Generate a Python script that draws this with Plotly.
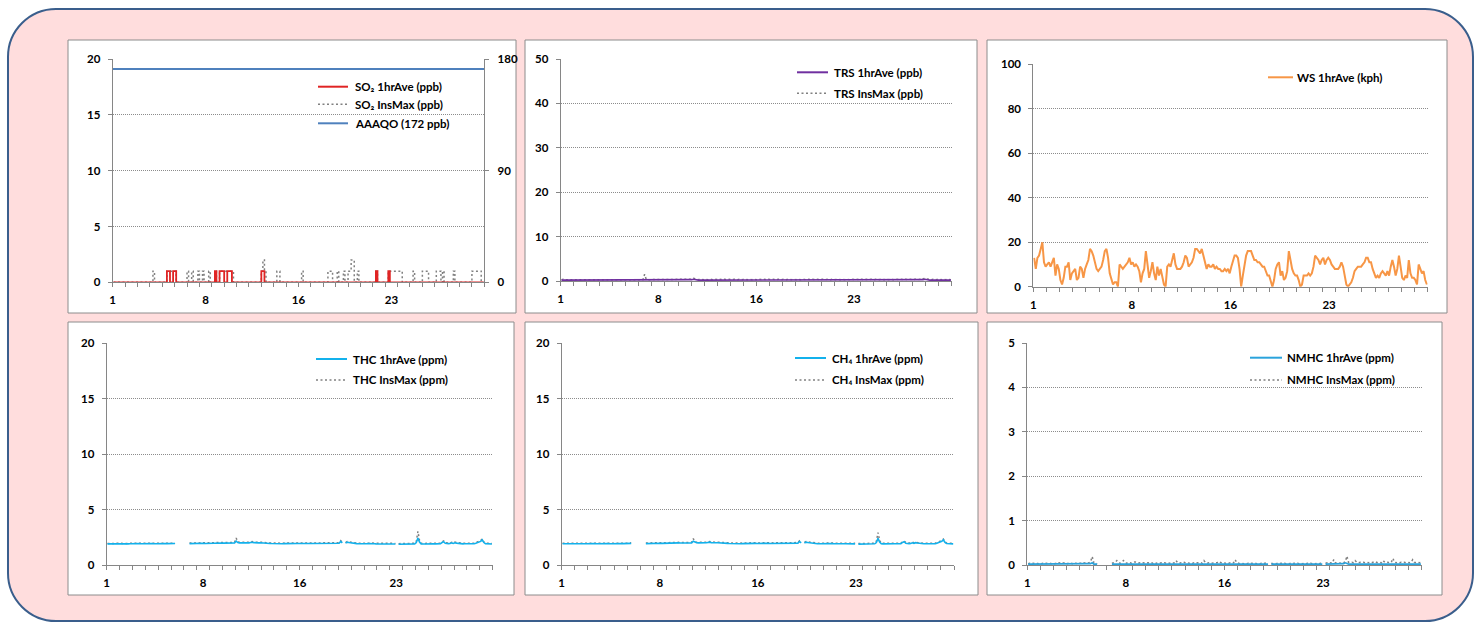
import plotly.graph_objects as go

# ---------------------------------------------------------------------------
# Monthly air-quality summary: six hourly panels, 30 days, values stored as
# 3-hourly samples (8 per day, one day per line).
# ---------------------------------------------------------------------------
W, H = 1476, 624
N_DAYS = 30
STEPS_PER_DAY = 8

X_TICK_POS = [0, 7.5, 15, 22.5]
X_TICK_TEXT = ["1", "8", "16", "23"]

AAAQO_SO2 = 172  # ppb, Alberta ambient air quality objective (1-hour)

SO2_AVE = [
    0, 0, 0, 0, 0, 0, 0, 0,
    0, 0, 0, 0, 0, 0, 0, 0,
    0, 0, 0, 0, 0, 0, 0, 0,
    0, 0, 0, 0, 0, 0, 0, 0,
    0, 0, 0, 1, 1, 0, 0, 1,
    1, 0, 0, 0, 0, 0, 0, 0,
    0, 0, 0, 0, 0, 0, 0, 0,
    0, 0, 0, 0, 0, 0, 0, 0,
    0, 0, 1, 0, 0, 1, 1, 1,
    0, 0, 1, 1, 1, 0, 0, 0,
    0, 0, 0, 0, 0, 0, 0, 0,
    0, 0, 0, 0, 0, 0, 0, 0,
    1, 1, 0, 0, 0, 0, 0, 0,
    0, 0, 0, 0, 0, 0, 0, 0,
    0, 0, 0, 0, 0, 0, 0, 0,
    0, 0, 0, 0, 0, 0, 0, 0,
    0, 0, 0, 0, 0, 0, 0, 0,
    0, 0, 0, 0, 0, 0, 0, 0,
    0, 0, 0, 0, 0, 0, 0, 0,
    0, 0, 0, 0, 0, 0, 0, 0,
    0, 0, 0, 0, 0, 0, 0, 0,
    0, 0, 1, 0, 0, 0, 0, 0,
    0, 0, 1, 0, 0, 0, 0, 0,
    0, 0, 0, 0, 0, 0, 0, 0,
    0, 0, 0, 0, 0, 0, 0, 0,
    0, 0, 0, 0, 0, 0, 0, 0,
    0, 0, 0, 0, 0, 0, 0, 0,
    0, 0, 0, 0, 0, 0, 0, 0,
    0, 0, 0, 0, 0, 0, 0, 0,
    0, 0, 0, 0, 0, 0, 0, 0,
]

SO2_MAX = [
    0, 0, 0, 0, 0, 0, 0, 0,
    0, 0, 0, 0, 0, 0, 0, 0,
    0, 0, 0, 0, 0, 0, 0, 0,
    0, 0, 1, 0, 0, 0, 0, 0,
    0, 0, 0, 1, 1, 1, 1, 1,
    1, 0, 0, 0, 0, 0, 0, 0,
    1, 0, 0, 1, 0, 0, 0, 1,
    0, 0, 1, 0, 0, 0, 1, 0,
    0, 0, 1, 0, 0, 1, 1, 1,
    1, 1, 1, 1, 1, 1, 0, 0,
    0, 0, 0, 0, 0, 0, 0, 0,
    0, 0, 0, 0, 0, 0, 0, 0,
    1, 2, 1, 0, 0, 0, 0, 0,
    0, 0, 1, 1, 0, 0, 0, 0,
    0, 0, 0, 0, 0, 0, 0, 0,
    0, 0, 1, 0, 0, 0, 0, 0,
    0, 0, 0, 0, 0, 0, 0, 0,
    0, 0, 0, 1, 1, 1, 0, 0,
    0, 1, 0, 0, 0, 1, 0, 0,
    1, 1, 2, 2, 0, 0, 1, 0,
    0, 0, 0, 0, 0, 0, 0, 0,
    0, 0, 1, 0, 0, 0, 0, 0,
    0, 0, 1, 1, 1, 1, 1, 1,
    1, 1, 1, 0, 0, 0, 0, 0,
    0, 0, 1, 0, 0, 0, 0, 0,
    1, 1, 1, 1, 0, 0, 0, 0,
    0, 1, 1, 1, 0, 1, 0, 0,
    0, 0, 0, 0, 1, 0, 0, 0,
    0, 0, 0, 0, 0, 0, 0, 0,
    1, 1, 1, 1, 1, 1, 0, 0,
]

TRS_AVE = [
    0.2, 0.2, 0.2, 0.2, 0.2, 0.2, 0.2, 0.2,
    0.2, 0.2, 0.2, 0.2, 0.2, 0.2, 0.2, 0.2,
    0.2, 0.2, 0.2, 0.2, 0.2, 0.2, 0.2, 0.2,
    0.2, 0.2, 0.2, 0.2, 0.2, 0.2, 0.2, 0.2,
    0.2, 0.2, 0.2, 0.2, 0.2, 0.2, 0.2, 0.2,
    0.2, 0.2, 0.2, 0.2, 0.2, 0.2, 0.2, 0.2,
    0.2, 0.2, 0.2, 0.3, 0.2, 0.2, 0.2, 0.2,
    0.2, 0.2, 0.2, 0.2, 0.2, 0.2, 0.2, 0.2,
    0.2, 0.2, 0.2, 0.2, 0.2, 0.2, 0.2, 0.2,
    0.2, 0.2, 0.2, 0.2, 0.2, 0.2, 0.2, 0.2,
    0.3, 0.4, 0.3, 0.3, 0.2, 0.2, 0.2, 0.2,
    0.2, 0.2, 0.2, 0.2, 0.2, 0.2, 0.2, 0.2,
    0.2, 0.2, 0.2, 0.2, 0.2, 0.2, 0.2, 0.2,
    0.2, 0.2, 0.2, 0.2, 0.2, 0.2, 0.2, 0.2,
    0.2, 0.2, 0.2, 0.2, 0.2, 0.2, 0.2, 0.2,
    0.2, 0.2, 0.2, 0.2, 0.2, 0.2, 0.2, 0.2,
    0.2, 0.2, 0.2, 0.2, 0.2, 0.2, 0.2, 0.2,
    0.2, 0.2, 0.2, 0.2, 0.2, 0.2, 0.2, 0.2,
    0.2, 0.2, 0.2, 0.2, 0.2, 0.2, 0.2, 0.2,
    0.2, 0.2, 0.2, 0.2, 0.2, 0.2, 0.2, 0.2,
    0.2, 0.2, 0.2, 0.2, 0.2, 0.2, 0.2, 0.2,
    0.2, 0.2, 0.2, 0.2, 0.2, 0.2, 0.2, 0.2,
    0.2, 0.2, 0.2, 0.2, 0.2, 0.2, 0.2, 0.2,
    0.2, 0.2, 0.2, 0.2, 0.2, 0.2, 0.2, 0.2,
    0.2, 0.2, 0.2, 0.2, 0.2, 0.2, 0.2, 0.2,
    0.2, 0.2, 0.2, 0.2, 0.2, 0.2, 0.2, 0.2,
    0.2, 0.2, 0.2, 0.2, 0.2, 0.2, 0.2, 0.2,
    0.2, 0.2, 0.2, 0.2, 0.2, 0.2, 0.3, 0.4,
    0.3, 0.3, 0.2, 0.2, 0.2, 0.2, 0.2, 0.2,
    0.2, 0.2, 0.2, 0.2, 0.2, 0.2, 0.2, 0.2,
]

TRS_MAX = [
    0.3, 0.4, 0.3, 0.3, 0.4, 0.3, 0.3, 0.4,
    0.3, 0.3, 0.4, 0.3, 0.3, 0.4, 0.3, 0.3,
    0.4, 0.3, 0.3, 0.4, 0.3, 0.3, 0.4, 0.3,
    0.3, 0.4, 0.3, 0.3, 0.4, 0.3, 0.3, 0.4,
    0.3, 0.3, 0.4, 0.3, 0.3, 0.4, 0.3, 0.3,
    0.4, 0.3, 0.3, 0.4, 0.3, 0.3, 0.4, 0.3,
    0.3, 0.4, 0.3, 1.5, 0.4, 0.3, 0.3, 0.4,
    0.3, 0.3, 0.4, 0.3, 0.3, 0.4, 0.3, 0.3,
    0.4, 0.3, 0.3, 0.4, 0.3, 0.3, 0.4, 0.3,
    0.3, 0.4, 0.3, 0.3, 0.4, 0.3, 0.3, 0.4,
    0.5, 0.6, 0.5, 0.4, 0.3, 0.4, 0.3, 0.3,
    0.4, 0.3, 0.3, 0.4, 0.3, 0.3, 0.4, 0.3,
    0.3, 0.4, 0.3, 0.3, 0.4, 0.3, 0.3, 0.4,
    0.3, 0.3, 0.4, 0.3, 0.3, 0.4, 0.3, 0.3,
    0.4, 0.3, 0.3, 0.4, 0.3, 0.3, 0.4, 0.3,
    0.3, 0.4, 0.3, 0.3, 0.4, 0.3, 0.3, 0.4,
    0.3, 0.3, 0.4, 0.3, 0.3, 0.4, 0.3, 0.3,
    0.4, 0.3, 0.3, 0.4, 0.3, 0.3, 0.4, 0.3,
    0.3, 0.4, 0.3, 0.3, 0.4, 0.3, 0.3, 0.4,
    0.3, 0.3, 0.4, 0.3, 0.3, 0.4, 0.3, 0.3,
    0.4, 0.3, 0.3, 0.4, 0.3, 0.3, 0.4, 0.3,
    0.3, 0.4, 0.3, 0.3, 0.4, 0.3, 0.3, 0.4,
    0.3, 0.3, 0.4, 0.3, 0.3, 0.4, 0.3, 0.3,
    0.4, 0.3, 0.3, 0.4, 0.3, 0.3, 0.4, 0.3,
    0.3, 0.4, 0.3, 0.3, 0.4, 0.3, 0.3, 0.4,
    0.3, 0.3, 0.4, 0.3, 0.3, 0.4, 0.3, 0.3,
    0.4, 0.3, 0.3, 0.4, 0.3, 0.3, 0.4, 0.3,
    0.3, 0.4, 0.3, 0.3, 0.4, 0.3, 0.5, 0.6,
    0.5, 0.4, 0.3, 0.3, 0.4, 0.3, 0.3, 0.4,
    0.3, 0.3, 0.4, 0.3, 0.3, 0.4, 0.3, 0.3,
]

WS_AVE = [
    13, 8, 13, 14, 17, 20, 11, 9,
    10, 11, 9, 11, 13, 5, 10, 8,
    3, 1, 4, 9, 9, 11, 3, 6,
    7, 8, 3, 4, 9, 8, 4, 8,
    10, 12, 17, 16, 14, 11, 8, 7,
    8, 9, 12, 16, 17, 13, 6, 3,
    1, 2, 2, 0, 10, 9, 8, 9,
    10, 11, 13, 10, 11, 9, 10, 9,
    7, 2, 6, 8, 16, 9, 4, 7,
    11, 6, 3, 9, 5, 8, 4, 1,
    0, 9, 10, 9, 12, 15, 10, 8,
    8, 8, 9, 11, 14, 13, 9, 10,
    11, 13, 17, 17, 16, 15, 17, 14,
    12, 8, 10, 9, 9, 10, 8, 9,
    8, 8, 7, 7, 8, 7, 8, 6,
    9, 12, 14, 14, 13, 8, 0, 5,
    9, 14, 16, 16, 16, 14, 12, 12,
    11, 11, 10, 9, 9, 7, 5, 5,
    2, 0, 3, 8, 10, 11, 5, 7,
    3, 4, 7, 16, 12, 8, 6, 5,
    5, 3, 0, 1, 5, 5, 5, 6,
    5, 6, 9, 14, 13, 12, 10, 12,
    13, 10, 12, 13, 12, 10, 9, 8,
    8, 8, 9, 11, 9, 5, 1, 0,
    1, 2, 4, 7, 8, 9, 9, 9,
    10, 11, 13, 13, 11, 11, 8, 6,
    4, 5, 4, 6, 7, 6, 5, 7,
    5, 9, 12, 9, 5, 8, 14, 9,
    4, 3, 5, 4, 12, 6, 4, 4,
    3, 1, 10, 8, 6, 7, 3, 1,
]

THC_AVE = [
    1.93, 1.92, 1.93, 1.94, 1.93, 1.93, 1.94, 1.93,
    1.93, 1.93, 1.94, 1.95, 1.94, 1.93, 1.94, 1.95,
    1.94, 1.94, 1.95, 1.96, 1.95, 1.94, 1.95, 1.96,
    1.95, 1.94, 1.95, 1.96, 1.95, 1.94, 1.95, 1.95,
    1.94, 1.94, 1.95, 1.96, 1.95, 1.95, 1.96, 1.95,
    1.95, 1.96, 1.97, None, None, None, None, None,
    None, None, None, 1.95, 1.96, 1.97, 1.96, 1.97,
    1.96, 1.97, 1.98, 1.99, 1.98, 1.97, 1.98, 1.99,
    1.98, 1.99, 2.00, 2.01, 2.00, 1.99, 2.00, 2.01,
    2.00, 2.01, 2.02, 2.01, 2.00, 2.01, 2.02, 2.01,
    2.18, 2.05, 2.02, 2.01, 2.00, 2.01, 2.02, 2.01,
    2.02, 2.05, 2.08, 2.04, 2.02, 2.01, 2.02, 2.03,
    2.03, 2.02, 2.01, 2.00, 1.98, 1.97, 1.96, 1.95,
    1.95, 1.94, 1.95, 1.96, 1.95, 1.94, 1.95, 1.96,
    1.95, 1.96, 1.97, 1.96, 1.95, 1.96, 1.97, 1.96,
    1.97, 1.98, 1.97, 1.96, 1.95, 1.96, 1.97, 1.96,
    1.96, 1.95, 1.96, 1.97, 1.96, 1.95, 1.96, 1.95,
    1.95, 1.96, 1.97, 1.96, 1.97, 1.98, 1.97, 1.98,
    1.99, 2.15, 2.02, None, 2.00, 2.08, 2.05, 2.02,
    2.02, 2.00, 1.97, 1.95, 1.94, 1.93, 1.94, 1.93,
    1.93, 1.94, 1.95, 1.96, 1.97, 1.95, 1.94, 1.93,
    1.93, 1.94, 1.95, 1.94, 1.93, 1.94, 1.93, 1.92,
    1.93, 1.94, 1.93, 1.92, None, 1.90, 1.90, 1.89,
    1.89, 1.90, 1.89, 1.90, 1.89, 1.90, 1.91, 1.93,
    2.05, 2.45, 2.10, 1.93, 1.92, 1.93, 1.92, 1.93,
    1.93, 1.92, 1.93, 1.94, 1.93, 1.92, 1.93, 1.94,
    2.05, 2.12, 1.98, 1.94, 1.95, 1.96, 2.02, 1.97,
    2.03, 2.00, 1.97, 1.95, 1.94, 1.93, 1.94, 1.93,
    1.92, 1.93, 1.94, 1.95, 1.94, 1.98, 2.03, 2.08,
    2.15, 2.30, 2.05, 1.95, 1.93, 1.92, 1.93, 1.92,
]

THC_MAX = [
    1.97, 1.96, 1.97, 1.98, 1.97, 1.97, 1.98, 1.97,
    1.97, 1.97, 1.98, 1.99, 1.98, 1.97, 1.98, 1.99,
    1.98, 1.98, 1.99, 2.00, 1.99, 1.98, 1.99, 2.00,
    1.99, 1.98, 1.99, 2.01, 1.99, 1.98, 1.99, 1.99,
    1.98, 1.98, 1.99, 2.00, 1.99, 1.99, 2.02, 1.99,
    1.99, 2.00, 2.02, None, None, None, None, None,
    None, None, None, 2.00, 2.01, 2.02, 2.01, 2.02,
    2.01, 2.02, 2.03, 2.05, 2.03, 2.02, 2.03, 2.04,
    2.03, 2.04, 2.05, 2.07, 2.05, 2.04, 2.05, 2.06,
    2.05, 2.06, 2.07, 2.06, 2.05, 2.06, 2.08, 2.06,
    2.45, 2.10, 2.07, 2.06, 2.05, 2.06, 2.07, 2.06,
    2.07, 2.10, 2.14, 2.09, 2.07, 2.06, 2.07, 2.08,
    2.08, 2.07, 2.06, 2.05, 2.03, 2.02, 2.01, 2.00,
    2.00, 1.99, 2.00, 2.01, 2.00, 1.99, 2.00, 2.01,
    2.00, 2.01, 2.02, 2.01, 2.00, 2.01, 2.02, 2.01,
    2.02, 2.03, 2.02, 2.01, 2.00, 2.01, 2.02, 2.01,
    2.01, 2.00, 2.01, 2.02, 2.01, 2.00, 2.01, 2.00,
    2.00, 2.01, 2.02, 2.01, 2.02, 2.03, 2.02, 2.03,
    2.04, 2.22, 2.07, None, 2.05, 2.14, 2.10, 2.07,
    2.07, 2.05, 2.02, 2.00, 1.99, 1.98, 1.99, 1.98,
    1.98, 1.99, 2.00, 2.01, 2.02, 2.00, 1.99, 1.98,
    1.98, 1.99, 2.00, 1.99, 1.98, 1.99, 1.98, 1.97,
    1.98, 1.99, 1.98, 1.97, None, 1.95, 1.95, 1.94,
    1.94, 1.95, 1.94, 1.95, 1.94, 1.95, 1.96, 1.98,
    2.15, 3.05, 2.25, 1.98, 1.97, 1.98, 1.97, 1.98,
    1.98, 1.97, 1.98, 1.99, 1.98, 1.97, 1.98, 1.99,
    2.12, 2.20, 2.04, 1.99, 2.00, 2.01, 2.08, 2.02,
    2.09, 2.05, 2.02, 2.00, 1.99, 1.98, 1.99, 1.98,
    1.97, 1.98, 1.99, 2.00, 1.99, 2.05, 2.10, 2.15,
    2.22, 2.38, 2.10, 2.00, 1.98, 1.97, 1.98, 1.97,
]

CH4_AVE = [
    1.91, 1.90, 1.91, 1.92, 1.91, 1.91, 1.92, 1.91,
    1.91, 1.91, 1.92, 1.93, 1.92, 1.91, 1.92, 1.93,
    1.92, 1.92, 1.93, 1.94, 1.93, 1.92, 1.93, 1.94,
    1.93, 1.92, 1.93, 1.94, 1.93, 1.92, 1.93, 1.93,
    1.92, 1.92, 1.93, 1.94, 1.93, 1.93, 1.94, 1.93,
    1.93, 1.94, 1.95, None, None, None, None, None,
    None, None, None, 1.93, 1.94, 1.95, 1.94, 1.95,
    1.94, 1.95, 1.96, 1.97, 1.96, 1.95, 1.96, 1.97,
    1.96, 1.97, 1.98, 1.99, 1.98, 1.97, 1.98, 1.99,
    1.98, 1.99, 2.00, 1.99, 1.98, 1.99, 2.00, 1.99,
    2.14, 2.03, 2.00, 1.99, 1.98, 1.99, 2.00, 1.99,
    2.00, 2.03, 2.06, 2.02, 2.00, 1.99, 2.00, 2.01,
    2.01, 2.00, 1.99, 1.98, 1.96, 1.95, 1.94, 1.93,
    1.93, 1.92, 1.93, 1.94, 1.93, 1.92, 1.93, 1.94,
    1.93, 1.94, 1.95, 1.94, 1.93, 1.94, 1.95, 1.94,
    1.95, 1.96, 1.95, 1.94, 1.93, 1.94, 1.95, 1.94,
    1.94, 1.93, 1.94, 1.95, 1.94, 1.93, 1.94, 1.93,
    1.93, 1.94, 1.95, 1.94, 1.95, 1.96, 1.95, 1.96,
    1.97, 2.12, 2.00, None, 1.98, 2.06, 2.03, 2.00,
    2.00, 1.98, 1.95, 1.93, 1.92, 1.91, 1.92, 1.91,
    1.91, 1.92, 1.93, 1.94, 1.95, 1.93, 1.92, 1.91,
    1.91, 1.92, 1.93, 1.92, 1.91, 1.92, 1.91, 1.90,
    1.91, 1.92, 1.91, 1.90, None, 1.88, 1.88, 1.87,
    1.87, 1.88, 1.87, 1.88, 1.87, 1.88, 1.89, 1.91,
    2.02, 2.40, 2.07, 1.91, 1.90, 1.91, 1.90, 1.91,
    1.91, 1.90, 1.91, 1.92, 1.91, 1.90, 1.91, 1.92,
    2.03, 2.10, 1.96, 1.92, 1.93, 1.94, 2.00, 1.95,
    2.01, 1.98, 1.95, 1.93, 1.92, 1.91, 1.92, 1.91,
    1.90, 1.91, 1.92, 1.93, 1.92, 1.96, 2.01, 2.06,
    2.13, 2.27, 2.03, 1.93, 1.91, 1.90, 1.91, 1.90,
]

CH4_MAX = [
    1.95, 1.94, 1.95, 1.96, 1.95, 1.95, 1.96, 1.95,
    1.95, 1.95, 1.96, 1.97, 1.96, 1.95, 1.96, 1.97,
    1.96, 1.96, 1.97, 1.98, 1.97, 1.96, 1.97, 1.98,
    1.97, 1.96, 1.97, 1.99, 1.97, 1.96, 1.97, 1.97,
    1.96, 1.96, 1.97, 1.98, 1.97, 1.97, 2.00, 1.97,
    1.97, 1.98, 2.00, None, None, None, None, None,
    None, None, None, 1.98, 1.99, 2.00, 1.99, 2.00,
    1.99, 2.00, 2.01, 2.03, 2.01, 2.00, 2.01, 2.02,
    2.01, 2.02, 2.03, 2.05, 2.03, 2.02, 2.03, 2.04,
    2.03, 2.04, 2.05, 2.04, 2.03, 2.04, 2.06, 2.04,
    2.38, 2.08, 2.05, 2.04, 2.03, 2.04, 2.05, 2.04,
    2.05, 2.08, 2.12, 2.07, 2.05, 2.04, 2.05, 2.06,
    2.06, 2.05, 2.04, 2.03, 2.01, 2.00, 1.99, 1.98,
    1.98, 1.97, 1.98, 1.99, 1.98, 1.97, 1.98, 1.99,
    1.98, 1.99, 2.00, 1.99, 1.98, 1.99, 2.00, 1.99,
    2.00, 2.01, 2.00, 1.99, 1.98, 1.99, 2.00, 1.99,
    1.99, 1.98, 1.99, 2.00, 1.99, 1.98, 1.99, 1.98,
    1.98, 1.99, 2.00, 1.99, 2.00, 2.01, 2.00, 2.01,
    2.02, 2.18, 2.05, None, 2.03, 2.11, 2.08, 2.05,
    2.05, 2.03, 2.00, 1.98, 1.97, 1.96, 1.97, 1.96,
    1.96, 1.97, 1.98, 1.99, 2.00, 1.98, 1.97, 1.96,
    1.96, 1.97, 1.98, 1.97, 1.96, 1.97, 1.96, 1.95,
    1.96, 1.97, 1.96, 1.95, None, 1.93, 1.93, 1.92,
    1.92, 1.93, 1.92, 1.93, 1.92, 1.93, 1.94, 1.96,
    2.12, 2.92, 2.20, 1.96, 1.95, 1.96, 1.95, 1.96,
    1.96, 1.95, 1.96, 1.97, 1.96, 1.95, 1.96, 1.97,
    2.09, 2.17, 2.02, 1.97, 1.98, 1.99, 2.06, 2.00,
    2.07, 2.03, 2.00, 1.98, 1.97, 1.96, 1.97, 1.96,
    1.95, 1.96, 1.97, 1.98, 1.97, 2.03, 2.08, 2.13,
    2.20, 2.33, 2.08, 1.98, 1.96, 1.95, 1.96, 1.95,
]

NMHC_AVE = [
    0.02, 0.02, 0.02, 0.02, 0.02, 0.02, 0.02, 0.02,
    0.02, 0.02, 0.02, 0.02, 0.02, 0.02, 0.02, 0.02,
    0.02, 0.02, 0.02, 0.02, 0.02, 0.02, 0.02, 0.02,
    0.02, 0.02, 0.02, 0.02, 0.02, 0.02, 0.02, 0.02,
    0.02, 0.02, 0.02, 0.02, 0.02, 0.02, 0.03, 0.05,
    0.02, 0.02, 0.02, None, None, None, None, None,
    None, None, None, 0.02, 0.02, 0.02, 0.03, 0.02,
    0.02, 0.02, 0.03, 0.02, 0.02, 0.02, 0.02, 0.02,
    0.02, 0.03, 0.02, 0.02, 0.02, 0.02, 0.02, 0.02,
    0.02, 0.02, 0.02, 0.02, 0.02, 0.02, 0.02, 0.02,
    0.03, 0.02, 0.02, 0.02, 0.02, 0.02, 0.02, 0.02,
    0.02, 0.02, 0.03, 0.02, 0.02, 0.02, 0.02, 0.02,
    0.02, 0.02, 0.02, 0.02, 0.02, 0.02, 0.02, 0.02,
    0.02, 0.02, 0.02, 0.03, 0.02, 0.02, 0.02, 0.02,
    0.02, 0.02, 0.02, 0.02, 0.02, 0.02, 0.02, 0.02,
    0.02, 0.02, 0.02, 0.02, 0.02, 0.02, 0.03, 0.02,
    0.02, 0.02, 0.02, 0.02, 0.02, 0.02, 0.02, 0.02,
    0.02, 0.02, 0.02, 0.02, 0.02, 0.02, 0.02, 0.02,
    0.02, 0.03, 0.02, None, 0.02, 0.02, 0.02, 0.02,
    0.02, 0.02, 0.02, 0.02, 0.02, 0.02, 0.02, 0.02,
    0.02, 0.02, 0.02, 0.02, 0.02, 0.02, 0.02, 0.02,
    0.02, 0.02, 0.02, 0.02, 0.02, 0.02, 0.02, 0.02,
    0.02, 0.02, 0.02, 0.02, None, 0.02, 0.02, 0.02,
    0.02, 0.02, 0.03, 0.02, 0.02, 0.02, 0.02, 0.02,
    0.03, 0.05, 0.03, 0.02, 0.02, 0.02, 0.02, 0.03,
    0.02, 0.02, 0.02, 0.02, 0.02, 0.02, 0.02, 0.02,
    0.02, 0.03, 0.02, 0.02, 0.02, 0.02, 0.02, 0.02,
    0.03, 0.02, 0.02, 0.02, 0.02, 0.02, 0.03, 0.02,
    0.02, 0.02, 0.02, 0.02, 0.02, 0.02, 0.02, 0.02,
    0.02, 0.03, 0.02, 0.02, 0.02, 0.02, 0.02, 0.02,
]

NMHC_MAX = [
    0.03, 0.04, 0.03, 0.04, 0.03, 0.04, 0.03, 0.04,
    0.03, 0.04, 0.03, 0.04, 0.03, 0.04, 0.03, 0.04,
    0.03, 0.04, 0.03, 0.05, 0.03, 0.04, 0.05, 0.04,
    0.03, 0.05, 0.04, 0.03, 0.05, 0.04, 0.03, 0.05,
    0.04, 0.03, 0.05, 0.04, 0.03, 0.05, 0.07, 0.19,
    0.05, 0.04, 0.03, None, None, None, None, None,
    None, None, None, 0.04, 0.05, 0.06, 0.10, 0.05,
    0.04, 0.06, 0.10, 0.05, 0.04, 0.06, 0.05, 0.04,
    0.05, 0.07, 0.05, 0.04, 0.05, 0.04, 0.05, 0.04,
    0.04, 0.05, 0.04, 0.05, 0.04, 0.06, 0.04, 0.05,
    0.04, 0.05, 0.04, 0.05, 0.04, 0.05, 0.04, 0.05,
    0.04, 0.05, 0.10, 0.05, 0.04, 0.05, 0.04, 0.06,
    0.04, 0.05, 0.04, 0.05, 0.04, 0.05, 0.04, 0.05,
    0.04, 0.05, 0.04, 0.10, 0.05, 0.04, 0.05, 0.04,
    0.04, 0.05, 0.04, 0.05, 0.08, 0.05, 0.04, 0.05,
    0.04, 0.05, 0.04, 0.05, 0.04, 0.05, 0.12, 0.05,
    0.04, 0.03, 0.04, 0.03, 0.04, 0.03, 0.04, 0.03,
    0.04, 0.03, 0.04, 0.03, 0.04, 0.03, 0.04, 0.03,
    0.04, 0.05, 0.04, None, 0.04, 0.03, 0.04, 0.03,
    0.04, 0.03, 0.04, 0.03, 0.04, 0.03, 0.04, 0.03,
    0.04, 0.03, 0.04, 0.03, 0.04, 0.03, 0.04, 0.03,
    0.04, 0.03, 0.04, 0.03, 0.04, 0.03, 0.04, 0.03,
    0.04, 0.03, 0.04, 0.03, None, 0.04, 0.05, 0.04,
    0.05, 0.04, 0.12, 0.05, 0.04, 0.05, 0.04, 0.06,
    0.05, 0.07, 0.20, 0.06, 0.05, 0.06, 0.05, 0.10,
    0.06, 0.05, 0.06, 0.05, 0.06, 0.05, 0.06, 0.05,
    0.06, 0.05, 0.06, 0.08, 0.06, 0.05, 0.06, 0.05,
    0.10, 0.06, 0.05, 0.06, 0.05, 0.06, 0.15, 0.06,
    0.05, 0.06, 0.05, 0.06, 0.05, 0.06, 0.05, 0.06,
    0.05, 0.06, 0.12, 0.06, 0.05, 0.06, 0.05, 0.06,
]

# ---------------------------------------------------------------------------
# Styling
# ---------------------------------------------------------------------------
FONT_FAMILY = "Lato, Carlito, Calibri, Arial, sans-serif"
FONT_SIZE = 11.5
TICK_FONT = dict(family=FONT_FAMILY, size=FONT_SIZE, color="#000000", weight="bold")
AXIS_GRAY = "#868686"
GRID_GRAY = "#8c8c8c"
MAX_GRAY = "#808080"
MAX_DASH = "2px,2.5px"

RED = "#e02424"
BLUE = "#4f81bd"
PURPLE = "#7030a0"
ORANGE = "#f79646"
CYAN = "#13b1ec"
NMHC_BLUE = "#2aa3dc"

PINK = "#ffdddd"
FRAME_BLUE = "#3a5e8c"
PANEL_EDGE = "#8c8c8c"

t = [(i + 0.5) / STEPS_PER_DAY for i in range(N_DAYS * STEPS_PER_DAY)]


def px(x):
    return x / W


def py(y):
    return 1 - y / H


# Panel geometry in page pixels: outer box and plotting rectangle.
PANELS = [
    dict(box=(68, 40, 516, 313), plot=(112.7, 484.3, 59.0, 282.3), ymax=20, dtick=5),
    dict(box=(525, 40, 977, 313), plot=(560.7, 951.7, 59.0, 281.0), ymax=50, dtick=10),
    dict(box=(987, 40, 1447, 313), plot=(1033.3, 1427.7, 64.3, 286.7), ymax=100, dtick=20),
    dict(box=(68, 322, 514, 595), plot=(106.7, 492.7, 343.3, 565.3), ymax=20, dtick=5),
    dict(box=(525, 322, 978, 595), plot=(561.7, 954.0, 343.0, 565.0), ymax=20, dtick=5),
    dict(box=(987, 322, 1442, 595), plot=(1027.3, 1421.7, 343.0, 565.0), ymax=5, dtick=1),
]
Y_NAMES = ["y", "y3", "y4", "y5", "y6", "y7"]

fig = go.Figure()

layout_axes = {}
for i, p in enumerate(PANELS):
    x0, x1, ytop, ybot = p["plot"]
    xname = "x" if i == 0 else f"x{i + 1}"
    yname = Y_NAMES[i]
    layout_axes["xaxis" if i == 0 else f"xaxis{i + 1}"] = dict(
        domain=[px(x0), px(x1)],
        range=[0, N_DAYS],
        anchor=yname,
        automargin=False,
        tickmode="array",
        tickvals=X_TICK_POS,
        ticktext=X_TICK_TEXT,
        ticks="",
        ticklabelstandoff=7,
        showline=True,
        linecolor=AXIS_GRAY,
        linewidth=1,
        showgrid=False,
        zeroline=False,
        tickfont=TICK_FONT,
        fixedrange=True,
        minor=dict(tickmode="linear", tick0=0, dtick=1, ticks="outside",
                   ticklen=4, tickcolor=AXIS_GRAY, showgrid=False),
    )
    layout_axes["yaxis" if yname == "y" else f"yaxis{yname[1:]}"] = dict(
        domain=[py(ybot), py(ytop)],
        range=[0, p["ymax"]],
        anchor=xname,
        automargin=False,
        tickmode="linear",
        tick0=0,
        dtick=p["dtick"],
        ticks="outside",
        ticklen=4,
        tickcolor=AXIS_GRAY,
        ticklabelstandoff=5,
        showline=True,
        linecolor=AXIS_GRAY,
        linewidth=1,
        showgrid=True,
        gridcolor=GRID_GRAY,
        griddash="1px,1px",
        gridwidth=1,
        zeroline=False,
        tickfont=TICK_FONT,
        fixedrange=True,
    )

# Secondary axis for the SO2 objective line
layout_axes["yaxis2"] = dict(
    overlaying="y",
    side="right",
    anchor="x",
    automargin=False,
    range=[0, 180],
    tickmode="array",
    tickvals=[0, 90, 180],
    ticks="outside",
    ticklen=4,
    tickcolor=AXIS_GRAY,
    ticklabelstandoff=6,
    showline=True,
    linecolor=AXIS_GRAY,
    showgrid=False,
    zeroline=False,
    tickfont=TICK_FONT,
    fixedrange=True,
)


def add_line(y, xaxis, yaxis, color, width, dash="solid", shape="linear"):
    fig.add_trace(go.Scatter(
        x=t, y=y, xaxis=xaxis, yaxis=yaxis, mode="lines",
        line=dict(color=color, width=width, dash=dash, shape=shape),
        connectgaps=False, hoverinfo="skip", showlegend=False,
    ))


# SO2: readings are whole ppb, drawn as steps so each episode keeps its width
add_line(SO2_MAX, "x", "y", MAX_GRAY, 1.5, MAX_DASH, shape="hvh")
add_line(SO2_AVE, "x", "y", RED, 1.8, shape="hvh")
fig.add_trace(go.Scatter(
    x=[0, N_DAYS], y=[AAAQO_SO2, AAAQO_SO2], xaxis="x", yaxis="y2", mode="lines",
    line=dict(color=BLUE, width=2), hoverinfo="skip", showlegend=False,
))
# TRS
add_line(TRS_MAX, "x2", "y3", MAX_GRAY, 1.5, MAX_DASH)
add_line(TRS_AVE, "x2", "y3", PURPLE, 1.6)
# Wind speed
add_line(WS_AVE, "x3", "y4", ORANGE, 2.0)
# THC
add_line(THC_MAX, "x4", "y5", MAX_GRAY, 1.5, MAX_DASH)
add_line(THC_AVE, "x4", "y5", CYAN, 1.6)
# CH4
add_line(CH4_MAX, "x5", "y6", MAX_GRAY, 1.5, MAX_DASH)
add_line(CH4_AVE, "x5", "y6", CYAN, 1.6)
# NMHC
add_line(NMHC_MAX, "x6", "y7", MAX_GRAY, 1.5, MAX_DASH)
add_line(NMHC_AVE, "x6", "y7", NMHC_BLUE, 1.6)


# ---------------------------------------------------------------------------
# Background frame, panel boxes and in-panel legends
# ---------------------------------------------------------------------------
def rounded_rect_path(x0, y0, x1, y1, r):
    k = 0.5523 * r

    def P(x, y):
        return f"{px(x):.5f},{py(y):.5f}"

    return (
        f"M {P(x0 + r, y0)} L {P(x1 - r, y0)} "
        f"C {P(x1 - r + k, y0)} {P(x1, y0 + r - k)} {P(x1, y0 + r)} "
        f"L {P(x1, y1 - r)} "
        f"C {P(x1, y1 - r + k)} {P(x1 - r + k, y1)} {P(x1 - r, y1)} "
        f"L {P(x0 + r, y1)} "
        f"C {P(x0 + r - k, y1)} {P(x0, y1 - r + k)} {P(x0, y1 - r)} "
        f"L {P(x0, y0 + r)} "
        f"C {P(x0, y0 + r - k)} {P(x0 + r - k, y0)} {P(x0 + r, y0)} Z"
    )


shapes = [dict(
    type="path", xref="paper", yref="paper", layer="below",
    path=rounded_rect_path(8, 9, 1473, 621, 48),
    fillcolor=PINK, line=dict(color=FRAME_BLUE, width=2),
)]
for p in PANELS:
    bx0, by0, bx1, by1 = p["box"]
    shapes.append(dict(
        type="rect", xref="paper", yref="paper", layer="below",
        x0=px(bx0), x1=px(bx1), y0=py(by1), y1=py(by0),
        fillcolor="#ffffff", line=dict(color=PANEL_EDGE, width=1),
    ))

LEGENDS = [
    dict(line=(318, 348), text_x=353, rows=[
        ("SO₂ 1hrAve (ppb)", RED, "solid", 86.7),
        ("SO₂ InsMax (ppb)", MAX_GRAY, MAX_DASH, 104.3),
        ("AAAQO (172 ppb)", BLUE, "solid", 123.3),
    ]),
    dict(line=(797, 828), text_x=832, rows=[
        ("TRS 1hrAve (ppb)", PURPLE, "solid", 72.3),
        ("TRS InsMax (ppb)", MAX_GRAY, MAX_DASH, 93.3),
    ]),
    dict(line=(1268, 1293), text_x=1295, rows=[
        ("WS 1hrAve (kph)", ORANGE, "solid", 77.3),
    ]),
    dict(line=(316, 347), text_x=351, rows=[
        ("THC 1hrAve (ppm)", CYAN, "solid", 359.0),
        ("THC InsMax (ppm)", MAX_GRAY, MAX_DASH, 380.0),
    ]),
    dict(line=(795, 826), text_x=830, rows=[
        ("CH₄ 1hrAve (ppm)", CYAN, "solid", 358.0),
        ("CH₄ InsMax (ppm)", MAX_GRAY, MAX_DASH, 380.0),
    ]),
    dict(line=(1250, 1282), text_x=1285, rows=[
        ("NMHC 1hrAve (ppm)", NMHC_BLUE, "solid", 357.7),
        ("NMHC InsMax (ppm)", MAX_GRAY, MAX_DASH, 380.0),
    ]),
]

annotations = []
for lg in LEGENDS:
    lx0, lx1 = lg["line"]
    for label, color, dash, yy in lg["rows"]:
        shapes.append(dict(
            type="line", xref="paper", yref="paper", layer="above",
            x0=px(lx0), x1=px(lx1), y0=py(yy), y1=py(yy),
            line=dict(color=color, width=2 if dash == "solid" else 1.5, dash=dash),
        ))
        annotations.append(dict(
            xref="paper", yref="paper", x=px(lg["text_x"]), y=py(yy),
            xanchor="left", yanchor="middle", showarrow=False, text=label,
            font=dict(family=FONT_FAMILY, size=FONT_SIZE, color="#000000", weight="bold"),
        ))

fig.update_layout(
    template="none",
    width=W,
    height=H,
    margin=dict(l=0, r=0, t=0, b=0, pad=0),
    paper_bgcolor="#ffffff",
    plot_bgcolor="rgba(0,0,0,0)",
    showlegend=False,
    shapes=shapes,
    annotations=annotations,
    **layout_axes,
)

fig.write_html("out.html", config=dict(displayModeBar=False, staticPlot=True))
